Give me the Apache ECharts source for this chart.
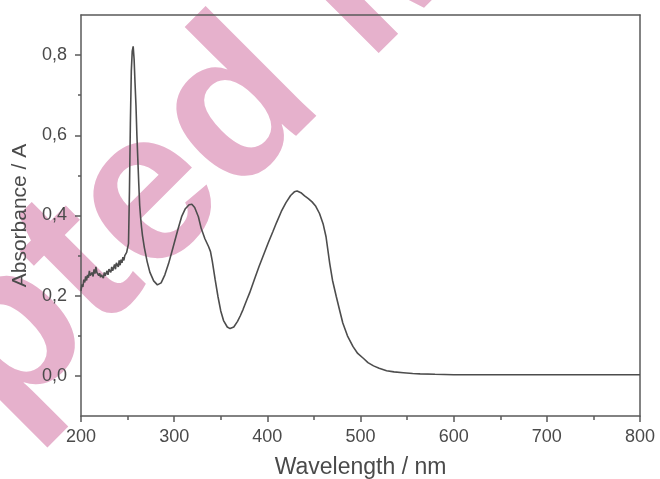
<!DOCTYPE html>
<html>
<head>
<meta charset="utf-8">
<script src="https://cdn.jsdelivr.net/npm/echarts@6/dist/echarts.min.js"></script>
<style>
  html, body { margin: 0; padding: 0; background: #fff; }
  #chart { width: 660px; height: 479px; }
</style>
</head>
<body>
<div id="chart"></div>
<script>
// UV-Vis absorption spectrum
const wavelength = [
  200, 201, 202, 203, 204, 205, 206, 207, 208, 209, 210, 212, 213, 214, 215, 216, 217, 218, 219, 220,
  221, 222, 224, 225, 226, 228, 229, 230, 232, 233, 234, 236, 237, 238, 240, 241, 242, 243, 244, 245,
  246, 247, 248, 249, 250, 251, 252, 253, 254, 255, 256, 257, 258, 259, 260, 261, 262, 263, 264, 265,
  266, 268, 271, 274, 278, 282, 286, 290, 294, 299, 304, 308, 312, 316, 319, 322, 326, 329, 333, 337,
  339, 341, 344, 347, 350, 353, 357, 360, 364, 368, 371, 374, 378, 381, 386, 391, 396, 401, 406, 410,
  415, 420, 425, 429, 432, 436, 440, 444, 448, 452, 456, 460, 463, 467, 470, 474, 478, 481, 486, 492,
  497, 503, 508, 514, 520, 528, 536, 546, 556, 564, 580, 600, 700, 800
];
const absorbance = [
  0.212, 0.228, 0.222, 0.240, 0.233, 0.248, 0.238, 0.252, 0.245, 0.262, 0.250, 0.258, 0.248, 0.266, 0.255, 0.272, 0.258, 0.262, 0.250, 0.256,
  0.246, 0.252, 0.244, 0.258, 0.250, 0.262, 0.252, 0.266, 0.258, 0.272, 0.262, 0.278, 0.266, 0.282, 0.272, 0.288, 0.276, 0.290, 0.282, 0.296,
  0.288, 0.300, 0.296, 0.308, 0.312, 0.330, 0.460, 0.630, 0.760, 0.810, 0.822, 0.790, 0.730, 0.675, 0.600, 0.540, 0.480, 0.425, 0.395, 0.370,
  0.350, 0.320, 0.285, 0.258, 0.237, 0.227, 0.232, 0.252, 0.280, 0.322, 0.365, 0.397, 0.417, 0.427, 0.428, 0.420, 0.397, 0.368, 0.342, 0.322,
  0.310, 0.285, 0.240, 0.198, 0.162, 0.138, 0.122, 0.118, 0.122, 0.136, 0.150, 0.166, 0.190, 0.207, 0.240, 0.272, 0.302, 0.332, 0.360, 0.383,
  0.410, 0.432, 0.450, 0.459, 0.461, 0.457, 0.449, 0.442, 0.434, 0.423, 0.405, 0.378, 0.347, 0.280, 0.238, 0.198, 0.160, 0.132, 0.100, 0.073,
  0.056, 0.044, 0.033, 0.025, 0.019, 0.013, 0.010, 0.008, 0.006, 0.005, 0.004, 0.003, 0.003, 0.003
];
const yMajorTicks = [0, 0.2, 0.4, 0.6, 0.8];
const yMinorTicks = [0.1, 0.3, 0.5, 0.7];
const xLabel = 'Wavelength / nm';
const yLabel = 'Absorbance / A';
const watermark = 'Accepted Manuscript';

const FONT = '"Liberation Sans", Arial, sans-serif';
const AXIS = '#5a5a5a';
const TEXT = '#4a4a4a';

const points = wavelength.map((w, i) => [w, absorbance[i]]);

const chart = echarts.init(document.getElementById('chart'), null, { renderer: 'canvas' });
chart.setOption({
  backgroundColor: '#ffffff',
  animation: false,
  graphic: [{
    type: 'text',
    x: -476,
    y: 672,
    rotation: Math.PI / 4,
    z: -10,
    silent: true,
    style: {
      text: watermark,
      font: 'bold 215px ' + FONT,
      fill: '#e6b1cc',
      textAlign: 'left',
      textVerticalAlign: 'alphabetic'
    }
  }],
  grid: { left: 81, right: 20, top: 15, bottom: 63, outerBoundsMode: 'none', containLabel: false },
  xAxis: [{
    type: 'value',
    min: 200, max: 800, interval: 100,
    position: 'bottom',
    name: xLabel,
    nameLocation: 'middle',
    nameGap: 40,
    nameTextStyle: { fontFamily: FONT, fontSize: 23, color: TEXT },
    axisLine: { show: true, onZero: false, lineStyle: { color: AXIS, width: 1.5 } },
    axisTick: { show: true, inside: false, length: 6, lineStyle: { color: AXIS, width: 1.5 } },
    minorTick: { show: true, splitNumber: 2, length: 4, lineStyle: { color: AXIS, width: 1.5 } },
    axisLabel: { fontFamily: FONT, fontSize: 18, color: TEXT, margin: 12 },
    splitLine: { show: false }
  }, {
    type: 'value',
    min: 200, max: 800,
    position: 'top',
    axisLine: { show: true, onZero: false, lineStyle: { color: AXIS, width: 1.5 } },
    axisTick: { show: false },
    axisLabel: { show: false },
    splitLine: { show: false }
  }],
  yAxis: [{
    type: 'value',
    min: -0.1, max: 0.9,
    position: 'left',
    name: yLabel,
    nameLocation: 'middle',
    nameGap: 47,
    nameTextStyle: { fontFamily: FONT, fontSize: 21, color: TEXT },
    axisLine: { show: true, onZero: false, lineStyle: { color: AXIS, width: 1.5 } },
    axisTick: { show: true, inside: false, length: 6, customValues: yMajorTicks, lineStyle: { color: AXIS, width: 1.5 } },
    axisLabel: {
      fontFamily: FONT, fontSize: 18, color: TEXT, margin: 14,
      customValues: yMajorTicks,
      formatter: v => v.toFixed(1).replace('.', ',')
    },
    splitLine: { show: false }
  }, {
    type: 'value',
    min: -0.1, max: 0.9,
    position: 'right',
    axisLine: { show: true, onZero: false, lineStyle: { color: AXIS, width: 1.5 } },
    axisTick: { show: false },
    axisLabel: { show: false },
    splitLine: { show: false }
  }, {
    type: 'value',
    min: -0.1, max: 0.9,
    position: 'left',
    axisLine: { show: false },
    axisTick: { show: true, inside: false, length: 3, customValues: yMinorTicks, lineStyle: { color: AXIS, width: 1.5 } },
    axisLabel: { show: false },
    splitLine: { show: false }
  }],
  series: [{
    type: 'line',
    xAxisIndex: 0,
    yAxisIndex: 0,
    data: points,
    showSymbol: false,
    smooth: false,
    lineStyle: { color: '#4d4d4d', width: 1.6 }
  }]
});
</script>
</body>
</html>
